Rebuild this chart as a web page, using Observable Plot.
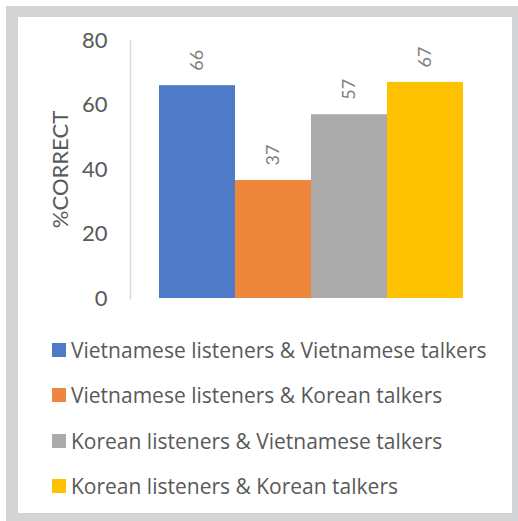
<!DOCTYPE html>
<html>
<head>
<meta charset="utf-8">
<script src="https://cdn.jsdelivr.net/npm/d3@7"></script>
<script src="https://cdn.jsdelivr.net/npm/@observablehq/plot@0.6"></script>
<style>
  html, body { margin: 0; padding: 0; background: #ffffff; }
  body { width: 518px; height: 521px; position: relative; overflow: hidden; font-family: Lato, "Open Sans", sans-serif; }
  #frame { position: absolute; left: 6px; top: 6px; width: 512px; height: 515px; background: #d3d4d6; }
  #panel { position: absolute; left: 18px; top: 17px; width: 494px; height: 496px; background: #ffffff; }
  #chart { position: absolute; left: 0; top: 0; }
  #legend { position: absolute; left: 34px; top: 310px; }
  .item { display: flex; align-items: center; height: 45.5px; font-family: "Open Sans", sans-serif; font-size: 21px; color: #595959; white-space: nowrap; }
  .sw { width: 14px; height: 14px; margin-right: 5px; flex: none; }
</style>
</head>
<body>
<div id="frame"></div>
<div id="panel">
  <div id="chart"></div>
  <div id="legend"></div>
</div>
<script>
const series = [
  "Vietnamese listeners & Vietnamese talkers",
  "Vietnamese listeners & Korean talkers",
  "Korean listeners & Vietnamese talkers",
  "Korean listeners & Korean talkers"
];
const values = [66, 36.6, 57, 67];
const colors = ["#4e7ac7", "#ee873b", "#ababab", "#fec200"];
const yTicks = [0, 20, 40, 60, 80];

const data = series.map((s, i) => ({series: s, value: values[i]}));

const chart = Plot.plot({
  width: 494,
  height: 310,
  marginLeft: 112,
  marginRight: 21,
  marginTop: 23,
  marginBottom: 29,
  style: {fontFamily: "Lato, 'Open Sans', sans-serif", background: "transparent"},
  x: {domain: series, paddingInner: 0, paddingOuter: 0.367, axis: null},
  y: {domain: [0, 80]},
  color: {domain: series, range: colors},
  marks: [
    Plot.frame({anchor: "left", stroke: "#d9d9d9", strokeWidth: 1.5}),
    Plot.axisY({ticks: yTicks, tickSize: 0, tickPadding: 23, fontSize: 22, color: "#595959",
      label: "%CORRECT", labelAnchor: "center", labelArrow: "none", labelOffset: 78}),
    Plot.barY(data, {x: "series", y: "value", fill: "series"}),
    Plot.text(data, {x: "series", y: "value", text: d => d3.format(".0f")(d.value),
      rotate: -90, textAnchor: "start", dy: -15, fontSize: 18, fill: "#7f7f7f"})
  ]
});
document.getElementById("chart").appendChild(chart);

const legend = document.getElementById("legend");
series.forEach((s, i) => {
  const row = document.createElement("div");
  row.className = "item";
  const sw = document.createElement("span");
  sw.className = "sw";
  sw.style.background = colors[i];
  const t = document.createElement("span");
  t.textContent = s;
  row.appendChild(sw);
  row.appendChild(t);
  legend.appendChild(row);
});
</script>
</body>
</html>
